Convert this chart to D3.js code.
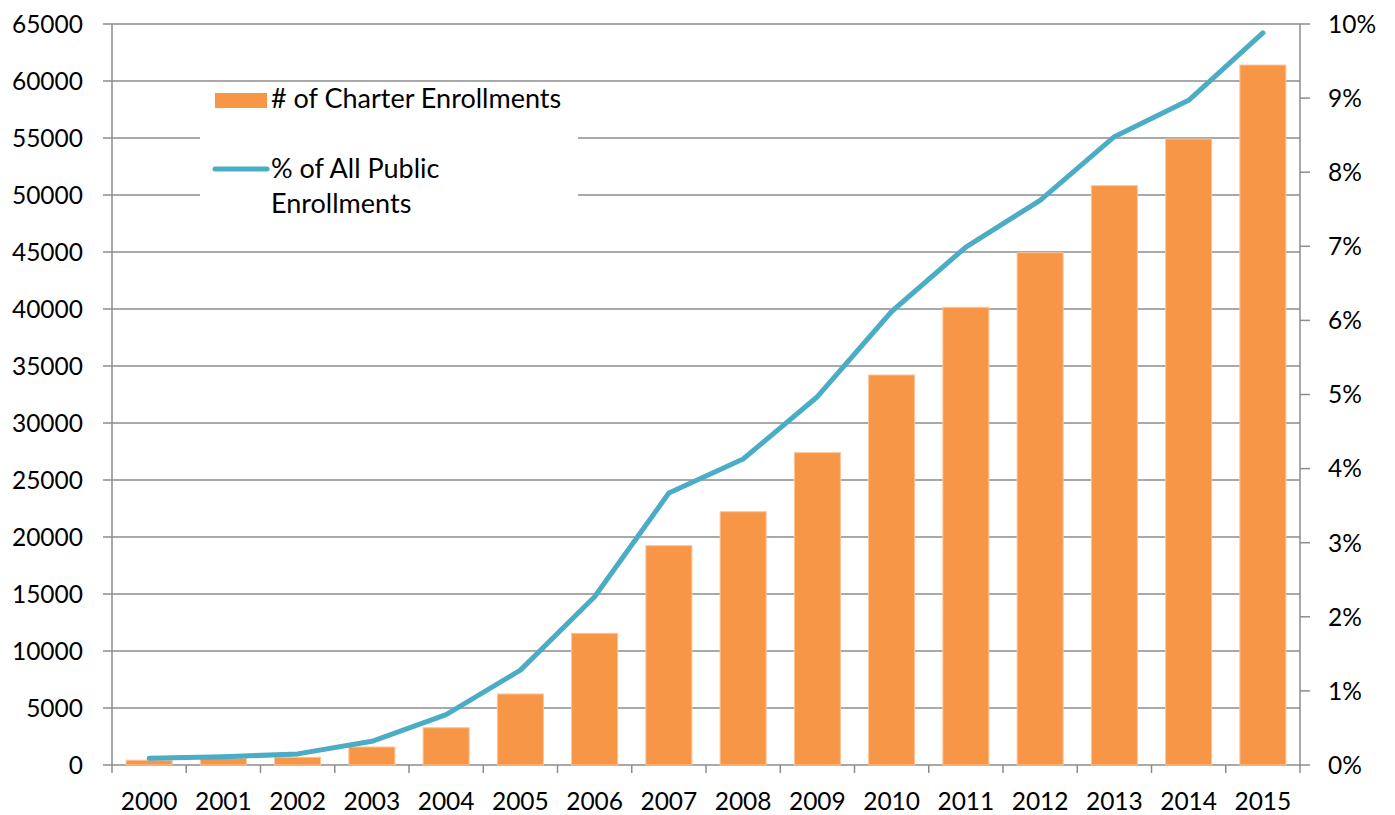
<!DOCTYPE html>
<html>
<head>
<meta charset="utf-8">
<script src="https://cdn.jsdelivr.net/npm/d3@7"></script>
<style>
  body { margin: 0; background: #fff; }
  text { font-family: Lato, "Open Sans", sans-serif; fill: #000; }
</style>
</head>
<body>
<div id="chart"></div>
<script>
// data
const years = ["2000", "2001", "2002", "2003", "2004", "2005", "2006", "2007",
               "2008", "2009", "2010", "2011", "2012", "2013", "2014", "2015"];
const enrollments = [420, 580, 680, 1580, 3270, 6230, 11550, 19240,
                     22220, 27400, 34210, 40150, 44940, 50820, 54910, 61400];
const pctPublic = [0.09, 0.11, 0.15, 0.32, 0.68, 1.28, 2.27, 3.67,
                   4.13, 4.97, 6.12, 6.99, 7.62, 8.48, 8.97, 9.88];
const leftTicks = d3.range(0, 65001, 5000);
const rightTicks = d3.range(0, 11, 1);

const W = 1395, H = 815;
const plot = {left: 112, right: 1300, top: 24, bottom: 765};
const gridColor = "#8c8c8c";

const svg = d3.select("#chart").append("svg")
    .attr("width", W)
    .attr("height", H);

const x = d3.scaleBand().domain(years).range([plot.left, plot.right]).padding(0);
const y = d3.scaleLinear().domain([0, 65000]).range([plot.bottom, plot.top]);
const y2 = d3.scaleLinear().domain([0, 10]).range([plot.bottom, plot.top]);

// gridlines (left axis ticks extend out to the labels)
svg.append("g")
    .selectAll("line")
    .data(leftTicks)
    .join("line")
    .attr("x1", plot.left - 9)
    .attr("x2", plot.right)
    .attr("y1", d => y(d))
    .attr("y2", d => y(d))
    .attr("stroke", gridColor)
    .attr("stroke-width", 1.5);

// left labels
svg.append("g")
    .selectAll("text")
    .data(leftTicks)
    .join("text")
    .attr("x", 83)
    .attr("y", d => y(d))
    .attr("dy", "0.36em")
    .attr("text-anchor", "end")
    .style("font-size", "24.5px")
    .text(d => d);

// left axis line
svg.append("line")
    .attr("x1", plot.left).attr("x2", plot.left)
    .attr("y1", plot.top).attr("y2", plot.bottom)
    .attr("stroke", gridColor).attr("stroke-width", 1.5);

// right axis
svg.append("line")
    .attr("x1", plot.right).attr("x2", plot.right)
    .attr("y1", plot.top).attr("y2", plot.bottom)
    .attr("stroke", gridColor).attr("stroke-width", 1.5);

svg.append("g")
    .selectAll("line")
    .data(rightTicks)
    .join("line")
    .attr("x1", plot.right)
    .attr("x2", plot.right + 10)
    .attr("y1", d => y2(d))
    .attr("y2", d => y2(d))
    .attr("stroke", gridColor)
    .attr("stroke-width", 1.5);

svg.append("g")
    .selectAll("text")
    .data(rightTicks)
    .join("text")
    .attr("x", 1328)
    .attr("y", d => y2(d))
    .attr("dy", "0.36em")
    .style("font-size", "24.5px")
    .text(d => d + "%");

// bottom ticks at category boundaries
const bounds = years.map(d => x(d)).concat([plot.right]);
svg.append("g")
    .selectAll("line")
    .data(bounds)
    .join("line")
    .attr("x1", d => d).attr("x2", d => d)
    .attr("y1", plot.bottom).attr("y2", plot.bottom + 8)
    .attr("stroke", gridColor).attr("stroke-width", 1.5);

svg.append("g")
    .selectAll("text")
    .data(years)
    .join("text")
    .attr("x", d => x(d) + x.bandwidth() / 2)
    .attr("y", 810)
    .attr("text-anchor", "middle")
    .style("font-size", "24.5px")
    .text(d => d);

// bars
const barW = x.bandwidth() * 0.62;
svg.append("g")
    .selectAll("rect")
    .data(years)
    .join("rect")
    .attr("x", (d, i) => x(d) + (x.bandwidth() - barW) / 2)
    .attr("y", (d, i) => y(enrollments[i]))
    .attr("width", barW)
    .attr("height", (d, i) => plot.bottom - y(enrollments[i]))
    .attr("fill", "#f79646")
    .attr("stroke", "#fbc49a")
    .attr("stroke-width", 1);

// line
const line = d3.line()
    .x((d, i) => x(years[i]) + x.bandwidth() / 2)
    .y(d => y2(d));

svg.append("path")
    .datum(pctPublic)
    .attr("d", line)
    .attr("fill", "none")
    .attr("stroke", "#4bacc6")
    .attr("stroke-width", 5)
    .attr("stroke-linecap", "round")
    .attr("stroke-linejoin", "round");

// legend
const legend = svg.append("g");
legend.append("rect")
    .attr("x", 200).attr("y", 84)
    .attr("width", 378).attr("height", 150)
    .attr("fill", "#fff");
legend.append("rect")
    .attr("x", 215).attr("y", 93)
    .attr("width", 52).attr("height", 15)
    .attr("fill", "#f79646");
legend.append("text")
    .attr("x", 271).attr("y", 108)
    .style("font-size", "27px")
    .text("# of Charter Enrollments");
legend.append("line")
    .attr("x1", 215).attr("x2", 267)
    .attr("y1", 169).attr("y2", 169)
    .attr("stroke", "#4bacc6")
    .attr("stroke-width", 5)
    .attr("stroke-linecap", "round");
legend.append("text")
    .attr("x", 271).attr("y", 178)
    .style("font-size", "27px")
    .text("% of All Public");
legend.append("text")
    .attr("x", 271).attr("y", 213)
    .style("font-size", "27px")
    .text("Enrollments");
</script>
</body>
</html>
